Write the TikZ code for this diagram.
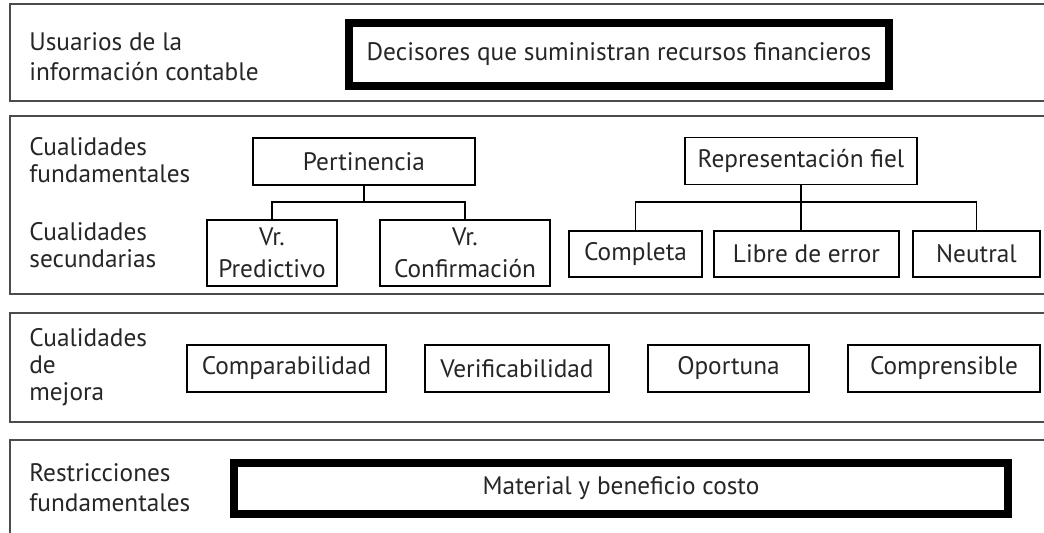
\documentclass[tikz,border=0pt]{standalone}
\usepackage{fontspec}
\setmainfont{PT Sans}

\begin{document}
\begin{tikzpicture}[x=0.02cm,y=-0.02cm]
    \tikzstyle{panel}=[draw=black!70,line width=1.1pt]
    \tikzstyle{rowlabel}=[anchor=west,align=left,inner sep=0pt,text=black!85,font=\fontsize{14.4}{17}\selectfont]
    \tikzstyle{box}=[rectangle,draw,line width=1.1pt,inner sep=0pt,minimum height=0.94cm,align=center,text=black!85,font=\fontsize{14.4}{18}\selectfont]
    \tikzstyle{bigbox}=[box,line width=4.5pt]
    \tikzstyle{link}=[line width=1.1pt]
    \useasboundingbox (0,0) rectangle (1044,533);
    \clip (0,0) rectangle (1044,533);
    \fill[white] (0,0) rectangle (1044,533);
    % the four bands
    \draw[panel] (10,4)   rectangle (1060,101);
    \draw[panel] (10,116) rectangle (1060,294);
    \draw[panel] (10,313) rectangle (1060,422);
    \draw[panel] (10,440) rectangle (1060,545);
    % users
    \node (users) at (29,57) [rowlabel] {Usuarios de la\\información contable};
    \node (decisores) at (619,54.5) [bigbox,minimum width=10.8cm,minimum height=1.26cm] {Decisores que suministran recursos financieros};
    % fundamental and secondary qualities
    \node (fund) at (29,160) [rowlabel,font=\fontsize{14.4}{15.5}\selectfont] {Cualidades\\fundamentales};
    \node (sec)  at (29,245) [rowlabel,font=\fontsize{14.4}{15.5}\selectfont] {Cualidades\\secundarias};
    \node (pert)     at (364,161.5) [box,minimum width=4.44cm] {Pertinencia};
    \node (repfiel)  at (801,161)   [box,minimum width=4.64cm] {Representación fiel};
    \node (vrpred)   at (272,253)   [box,minimum width=2.6cm,minimum height=1.32cm] {Vr.\\Predictivo};
    \node (vrconf)   at (465,253)   [box,minimum width=3.4cm,minimum height=1.32cm] {Vr.\\Confirmación};
    \node (completa) at (635.5,254) [box,minimum width=2.66cm,minimum height=0.92cm] {Completa};
    \node (libre)    at (806.5,254) [box,minimum width=3.7cm,minimum height=0.92cm] {Libre de error};
    \node (neutral)  at (976.5,254) [box,minimum width=2.54cm,minimum height=0.92cm] {Neutral};
    \draw[link] (pert.south) -- ++(0,16) coordinate (pbar);
    \draw[link] (vrpred.north) |- (pbar) -| (vrconf.north);
    \draw[link] (repfiel.south) -- ++(0,17) coordinate (rbar);
    \draw[link] (completa.north) |- (rbar) -| (neutral.north);
    \draw[link] (rbar) -- (rbar |- libre.north);
    % enhancing qualities
    \node (mejora) at (29,367) [rowlabel,font=\fontsize{14.4}{15.4}\selectfont] {Cualidades\\de\\mejora};
    \node (comparab) at (286.5,368.5) [box,minimum width=3.98cm] {Comparabilidad};
    \node (verif)    at (517,368.5)   [box,minimum width=3.68cm] {Verificabilidad};
    \node (oportuna) at (728.5,368.5) [box,minimum width=3.22cm] {Oportuna};
    \node (compren)  at (944,368.5)   [box,minimum width=3.84cm] {Comprensible};
    % constraints
    \node (restric) at (29,488) [rowlabel] {Restricciones\\fundamentales};
    \node (material) at (621,488.5) [bigbox,minimum width=15.48cm,minimum height=1.02cm] {Material y beneficio costo};
\end{tikzpicture}
\end{document}
